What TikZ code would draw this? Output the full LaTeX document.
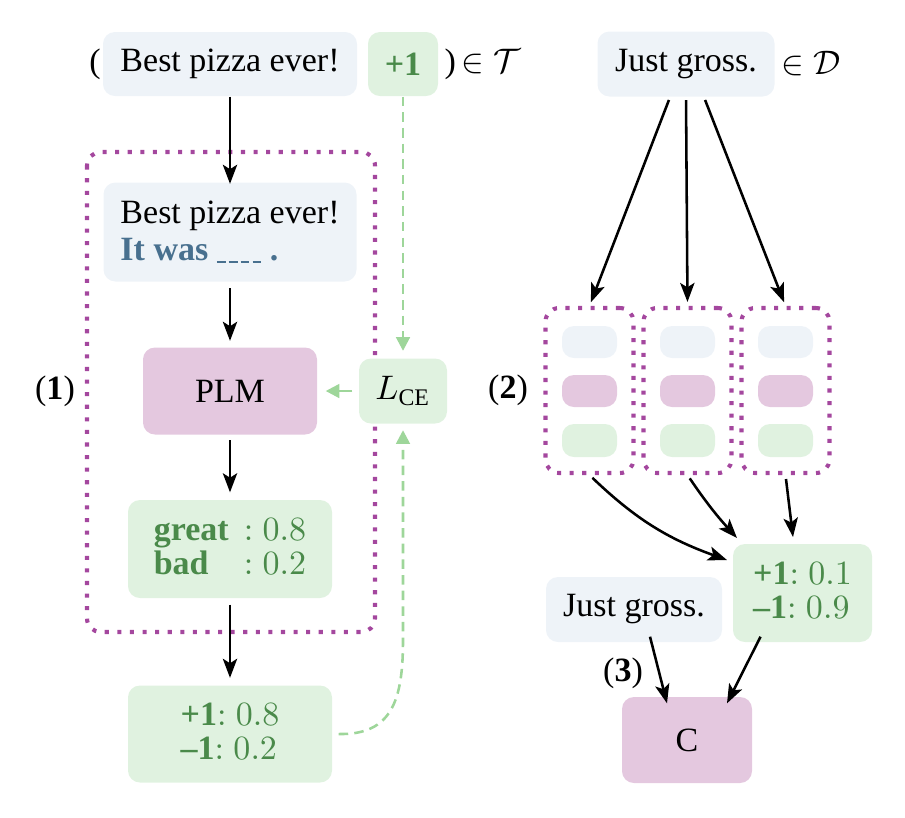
\documentclass[tikz,border=0pt]{standalone}
\usepackage{fontspec}
\setmainfont{Liberation Serif}
\usetikzlibrary{arrows.meta,calc}
\newdimen\pxu \pxu=0.294pt
\definecolor{bbox}{HTML}{EEF3F8}
\definecolor{pbox}{HTML}{E4C8DF}
\definecolor{gbox}{HTML}{E0F2E0}
\definecolor{dotc}{HTML}{A4479E}
\definecolor{gtext}{HTML}{4A8A4A}
\definecolor{btext}{HTML}{48708F}
\definecolor{gdash}{HTML}{9ED69A}
\newcommand\blankdash{\rule[-0.6pt]{2.6pt}{0.45pt}}
\newcommand\blanks{\blankdash\hspace{0.9pt}\blankdash\hspace{0.9pt}\blankdash\hspace{0.9pt}\blankdash}
\tikzset{
  boxbase/.style={rectangle, rounded corners=3.5pt, inner sep=0pt, align=center},
  bluebox/.style={boxbase, fill=bbox},
  pinkbox/.style={boxbase, fill=pbox},
  greenbox/.style={boxbase, fill=gbox},
  dotbox/.style={draw=dotc, line width=1.2pt, dash pattern=on 1.2pt off 2.5pt, rounded corners=4pt},
  blk/.style={line width=0.75pt, -{Stealth[length=5.6pt,width=4.2pt,inset=1.3pt]}},
  gar/.style={draw=gdash, line width=0.75pt, -{Triangle[length=4pt,width=4pt]}, color=gdash},
  gdashed/.style={gar, dash pattern=on 2.8pt off 1.8pt},
}
\begin{document}
\begin{tikzpicture}[x=0.294pt, y=-0.294pt]
\useasboundingbox (0,0) rectangle (905,817);
% left column
\node[bluebox, minimum width=254\pxu, minimum height=64\pxu] (b1) at (230,64) {Best pizza ever!};
\node[greenbox, minimum width=70\pxu, minimum height=64\pxu, text=gtext, font=\bfseries] (p1) at (403,64) {+1};
\node (lpar) at (95,64) {(};
\node[anchor=west, inner sep=0pt] (tset) at (444,64) {)\,$\in\mathcal{T}$};
\draw[dotbox] (87,152) rectangle (375,632);
\node[bluebox, minimum width=253\pxu, minimum height=99\pxu, align=left] (b2) at (230,232)
  {Best pizza ever!\\[-1pt]{\color{btext}\textbf{It was} \blanks\ \textbf{.}}};
\node[pinkbox, minimum width=174\pxu, minimum height=87\pxu] (plm) at (230,391) {PLM};
\node[greenbox, minimum width=88\pxu, minimum height=65\pxu] (lce) at (403,391) {$L_{\mathrm{CE}}$};
\node[greenbox, minimum width=204\pxu, minimum height=98\pxu, text=gtext] (gr) at (230,549)
  {\begin{tabular}{@{}l@{\,}l@{}}\textbf{great} & ${}: 0.8$\\[-2pt] \textbf{bad} & ${}: 0.2$\end{tabular}};
\node[greenbox, minimum width=204\pxu, minimum height=97\pxu, text=gtext] (out) at (230,734)
  {\begin{tabular}{@{}l@{}}\textbf{+1}$: 0.8$\\[-2pt] \textbf{–1}$: 0.2$\end{tabular}};
\node (l1) at (55,391) {(\textbf{1})};
\coordinate (cv) at (403,640);
\draw[blk] (b1.south) -- ([yshift=-2\pxu]b2.north);
\draw[blk, shorten <=6\pxu, shorten >=6\pxu] (b2.south) -- (plm.north);
\draw[blk, shorten <=5\pxu, shorten >=7\pxu] (plm.south) -- (gr.north);
\draw[blk, shorten <=6\pxu, shorten >=7\pxu] (gr.south) -- (out.north);
\draw[gdashed, shorten >=7\pxu] (p1.south) -- (lce.north);
\draw[gar, shorten <=6\pxu, shorten >=8\pxu] (lce.west) -- (plm.east);
\draw[gdashed, shorten >=6\pxu] ([xshift=6\pxu]out.east) .. controls (392,735) and (403,700) .. (cv) -- (lce.south);
% right column
\node[bluebox, minimum width=177\pxu, minimum height=65\pxu] (jg) at (686,64) {Just gross.};
\node[anchor=west, inner sep=0pt] (dset) at (781,64) {$\in\mathcal{D}$};
\foreach \i/\x in {1/589.5, 2/687.5, 3/785.5} {
  \node[dotbox, minimum width=88\pxu, minimum height=165\pxu, inner sep=0pt] (db\i) at (\x,390.5) {};
  \node[bluebox, minimum width=55\pxu, minimum height=32\pxu] (s\i a) at (\x,342) {};
  \node[pinkbox, minimum width=55\pxu, minimum height=32\pxu] (s\i b) at (\x,391) {};
  \node[greenbox, minimum width=55\pxu, minimum height=33\pxu] (s\i c) at (\x,440.5) {};
}
\node (l2) at (508,390) {(\textbf{2})};
\draw[blk, shorten <=3\pxu, shorten >=4\pxu] ([xshift=-16\pxu]jg.south) -- (db1.north);
\draw[blk, shorten <=3\pxu, shorten >=4\pxu] (jg.south) -- (db2.north);
\draw[blk, shorten <=3\pxu, shorten >=4\pxu] ([xshift=18\pxu]jg.south) -- (db3.north);
\node[greenbox, minimum width=139\pxu, minimum height=98\pxu, text=gtext] (res) at (802.5,593)
  {\begin{tabular}{@{}l@{}}\textbf{+1}$: 0.1$\\[-2pt] \textbf{–1}$: 0.9$\end{tabular}};
\node[bluebox, minimum width=176\pxu, minimum height=65\pxu] (jg2) at (634,609.5) {Just gross.};
\node[pinkbox, minimum width=130\pxu, minimum height=86\pxu] (c) at (687,740) {C};
\node (l3) at (623,673) {(\textbf{3})};
\coordinate (t1) at (727,560);
\coordinate (t2) at (737,538);
\coordinate (t3) at (793,537);
\draw[blk, shorten <=4\pxu] (db1.south) to[bend right=12] (t1);
\draw[blk, shorten <=4\pxu] (db2.south) to[bend right=4] (t2);
\draw[blk, shorten <=4\pxu] (db3.south) -- (t3);
\draw[blk] ([xshift=16\pxu,yshift=6\pxu]jg2.south) -- ([xshift=-20\pxu,yshift=-7\pxu]c.north);
\draw[blk] ([xshift=-42\pxu,yshift=6\pxu]res.south) -- ([xshift=40\pxu,yshift=-7\pxu]c.north);
\end{tikzpicture}
\end{document}
